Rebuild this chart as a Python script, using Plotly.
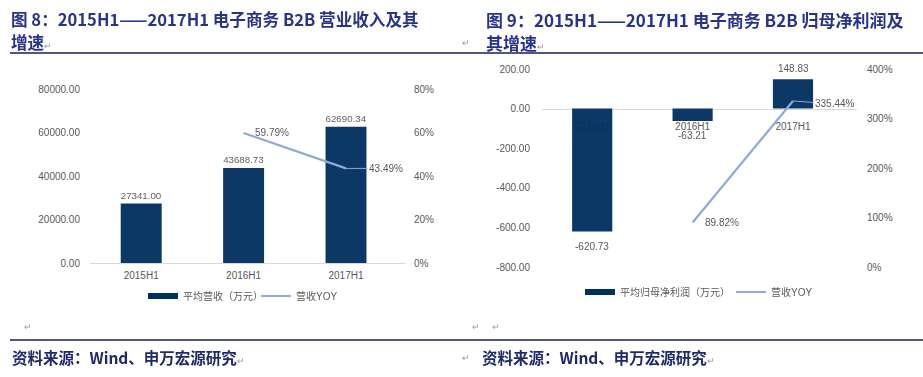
import plotly.graph_objects as go

# ---------------- data ----------------
categories = ["2015H1", "2016H1", "2017H1"]
revenue = [27341.00, 43688.73, 62690.34]          # 平均营收（万元）
revenue_yoy = [None, 59.79, 43.49]                # 营收YOY (%)
profit = [-620.73, -63.21, 148.83]                # 平均归母净利润（万元）
profit_yoy = [None, 89.82, 335.44]                # 营收YOY (%)

left_ticks = [0, 20000, 40000, 60000, 80000]
left_pct_ticks = [0, 20, 40, 60, 80]
right_ticks = [-800, -600, -400, -200, 0, 200]
right_pct_ticks = [0, 100, 200, 300, 400]

title_left_1 = "图 8：2015H1——2017H1 电子商务 B2B 营业收入及其"
title_left_2 = "增速"
title_right_1 = "图 9：2015H1——2017H1 电子商务 B2B 归母净利润及"
title_right_2 = "其增速"
source_text = "资料来源：Wind、申万宏源研究"

# ---------------- style ----------------
W, H = 923, 377
BAR = "#00305f"
LINE = "#8eaad8"
GREY = "#595959"
TITLE_C = "#28348c"
RULE_C = "#1c1c5c"
FONT = "Liberation Sans, Arial, Noto Sans CJK SC"
CJK_B = "Noto Sans CJK SC"
RET = "<span style='font-size:9px;color:#9a9a9a'>↵</span>"


def px(x):
    return x / W


def py(y):
    return 1 - y / H


def fmt2(v):
    return f"{v:.2f}"


fig = go.Figure()

# left chart
fig.add_trace(go.Bar(
    x=categories, y=revenue, xaxis="x", yaxis="y",
    marker=dict(color=BAR, line=dict(width=0)), opacity=0.96,
    text=[fmt2(v) for v in revenue], textposition="outside",
    textfont=dict(size=10, color=GREY, family=FONT), cliponaxis=False,
    showlegend=False, hoverinfo="skip"))
fig.add_trace(go.Scatter(
    x=[None], y=[None], xaxis="x", yaxis="y", mode="lines",
    line=dict(color=BAR, width=6), name="平均营收（万元）", legend="legend"))
fig.add_trace(go.Scatter(
    x=categories, y=revenue_yoy, xaxis="x", yaxis="y2", mode="lines",
    line=dict(color=LINE, width=2.2), name="营收YOY", legend="legend2",
    cliponaxis=False))

# right chart
fig.add_trace(go.Bar(
    x=categories, y=profit, xaxis="x3", yaxis="y3",
    marker=dict(color=BAR, line=dict(width=0)), opacity=0.96,
    cliponaxis=False, showlegend=False, hoverinfo="skip"))
fig.add_trace(go.Scatter(
    x=[None], y=[None], xaxis="x3", yaxis="y3", mode="lines",
    line=dict(color=BAR, width=6), name="平均归母净利润（万元）", legend="legend3"))
fig.add_trace(go.Scatter(
    x=categories, y=profit_yoy, xaxis="x3", yaxis="y4", mode="lines",
    line=dict(color=LINE, width=2.2), name="营收YOY", legend="legend4",
    cliponaxis=False))

# domains
L_x = [px(90), px(405)]
L_y = [py(263), py(89)]
R_x = [px(542), px(857)]
R_y = [py(267), py(69)]
zero_frac = (0 - right_ticks[0]) / (right_ticks[-1] - right_ticks[0])
zero_paper = R_y[0] + zero_frac * (R_y[1] - R_y[0])

tickfont = dict(size=10, color=GREY, family=FONT)
legfont = dict(size=10, color=GREY, family=FONT)


def leg(x, y):
    return dict(orientation="h", x=px(x), y=py(y), xanchor="left", yanchor="middle",
                font=legfont, bgcolor="rgba(0,0,0,0)", itemwidth=30, tracegroupgap=0)


fig.update_layout(
    template="none",
    width=W, height=H, margin=dict(l=0, r=0, t=0, b=0, pad=0, autoexpand=False),
    paper_bgcolor="white", plot_bgcolor="rgba(0,0,0,0)",
    font=dict(family=FONT, color=GREY, size=10),
    bargap=0.6,
    xaxis=dict(domain=L_x, anchor="y", showline=True, linecolor="#d9d9d9",
               linewidth=1, ticks="", tickfont=tickfont, showgrid=False,
               ticklabelstandoff=3, layer="below traces", automargin=False),
    yaxis=dict(domain=L_y, anchor="x", range=[left_ticks[0], left_ticks[-1]],
               tickvals=left_ticks, ticktext=[fmt2(v) for v in left_ticks],
               showgrid=False, zeroline=False, showline=False, ticks="",
               tickfont=tickfont, ticklabelstandoff=9, automargin=False),
    yaxis2=dict(overlaying="y", side="right", anchor="x",
                range=[left_pct_ticks[0], left_pct_ticks[-1]],
                tickvals=left_pct_ticks, ticktext=[f"{v}%" for v in left_pct_ticks],
                showgrid=False, zeroline=False, showline=False, ticks="",
                tickfont=tickfont, ticklabelstandoff=8, automargin=False),
    xaxis3=dict(domain=R_x, anchor="free", position=zero_paper, showline=True,
                linecolor="#d9d9d9", linewidth=1, ticks="", tickfont=tickfont,
                showgrid=False, ticklabelstandoff=8, layer="below traces",
                automargin=False),
    yaxis3=dict(domain=R_y, anchor="x3", range=[right_ticks[0], right_ticks[-1]],
                tickvals=right_ticks, ticktext=[fmt2(v) for v in right_ticks],
                showgrid=False, zeroline=False, showline=False, ticks="",
                tickfont=tickfont, ticklabelstandoff=11, automargin=False),
    yaxis4=dict(overlaying="y3", side="right", anchor="x3",
                range=[right_pct_ticks[0], right_pct_ticks[-1]],
                tickvals=right_pct_ticks, ticktext=[f"{v}%" for v in right_pct_ticks],
                showgrid=False, zeroline=False, showline=False, ticks="",
                tickfont=tickfont, ticklabelstandoff=9, automargin=False),
    legend=leg(143, 296),
    legend2=leg(256, 296),
    legend3=leg(580, 292),
    legend4=leg(731, 292),
)

annotations = []
# bar value labels (right chart)
for c, v in zip(categories, profit):
    annotations.append(dict(x=c, y=v, xref="x3", yref="y3", text=fmt2(v), showarrow=False,
                            yanchor="bottom" if v >= 0 else "top",
                            yshift=3 if v >= 0 else -7,
                            font=dict(size=10, color=GREY, family=FONT)))
# YOY labels (left chart)
annotations.append(dict(x=categories[1], y=revenue_yoy[1], xref="x", yref="y2",
                        text=f"{revenue_yoy[1]:.2f}%", showarrow=False, xanchor="left",
                        xshift=9, font=dict(size=10, color=GREY, family=FONT)))
annotations.append(dict(x=categories[2], y=revenue_yoy[2], xref="x", yref="y2",
                        text=f"{revenue_yoy[2]:.2f}%", showarrow=True, ax=40, ay=0,
                        arrowhead=0, arrowwidth=1, arrowcolor=LINE, standoff=0,
                        font=dict(size=10, color=GREY, family=FONT)))
# YOY labels (right chart)
annotations.append(dict(x=categories[1], y=profit_yoy[1], xref="x3", yref="y4",
                        text=f"{profit_yoy[1]:.2f}%", showarrow=False, xanchor="left",
                        xshift=10, font=dict(size=10, color=GREY, family=FONT)))
annotations.append(dict(x=categories[2], y=profit_yoy[2], xref="x3", yref="y4",
                        text=f"{profit_yoy[2]:.2f}%", showarrow=True, ax=42, ay=3,
                        arrowhead=0, arrowwidth=1, arrowcolor=LINE, standoff=0,
                        font=dict(size=10, color=GREY, family=FONT)))

tfont_l = dict(size=16.6, color=TITLE_C, family=CJK_B)
tfont_r = dict(size=17, color=TITLE_C, family=CJK_B)
annotations += [
    dict(x=px(9), y=py(19), xref="paper", yref="paper", xanchor="left", yanchor="middle",
         text=f"<b>{title_left_1}</b>", showarrow=False, font=tfont_l),
    dict(x=px(9), y=py(42), xref="paper", yref="paper", xanchor="left", yanchor="middle",
         text=f"<b>{title_left_2}</b>" + RET, showarrow=False, font=tfont_l),
    dict(x=px(484), y=py(19), xref="paper", yref="paper", xanchor="left", yanchor="middle",
         text=f"<b>{title_right_1}</b>", showarrow=False, font=tfont_r),
    dict(x=px(484), y=py(42), xref="paper", yref="paper", xanchor="left", yanchor="middle",
         text=f"<b>{title_right_2}</b>" + RET, showarrow=False, font=tfont_r),
    dict(x=px(460), y=py(43), xref="paper", yref="paper", xanchor="left", yanchor="middle",
         text=RET, showarrow=False),
]
sfont = dict(size=15.5, color="#1e2a6b", family=CJK_B)
annotations += [
    dict(x=px(10), y=py(357), xref="paper", yref="paper", xanchor="left", yanchor="middle",
         text=f"<b>{source_text}</b>" + RET, showarrow=False, font=sfont),
    dict(x=px(480), y=py(357), xref="paper", yref="paper", xanchor="left", yanchor="middle",
         text=f"<b>{source_text}</b>" + RET, showarrow=False, font=sfont),
    dict(x=px(460), y=py(358), xref="paper", yref="paper", xanchor="left", yanchor="middle",
         text=RET, showarrow=False),
    dict(x=px(22), y=py(327), xref="paper", yref="paper", xanchor="left", yanchor="middle",
         text=RET, showarrow=False),
    dict(x=px(470), y=py(327), xref="paper", yref="paper", xanchor="left", yanchor="middle",
         text=RET, showarrow=False),
    dict(x=px(490), y=py(327), xref="paper", yref="paper", xanchor="left", yanchor="middle",
         text=RET, showarrow=False),
]
fig.update_layout(annotations=annotations)

shapes = [
    dict(type="line", xref="paper", yref="paper", x0=px(10), x1=1, y0=py(53), y1=py(53),
         line=dict(color=RULE_C, width=1.5)),
    dict(type="line", xref="paper", yref="paper", x0=px(10), x1=1, y0=py(340), y1=py(340),
         line=dict(color=RULE_C, width=1.5)),
]
fig.update_layout(shapes=shapes)

fig.write_html("out.html", config={"displayModeBar": False},
               post_script="document.body.style.margin='0';document.body.style.overflow='hidden';")
